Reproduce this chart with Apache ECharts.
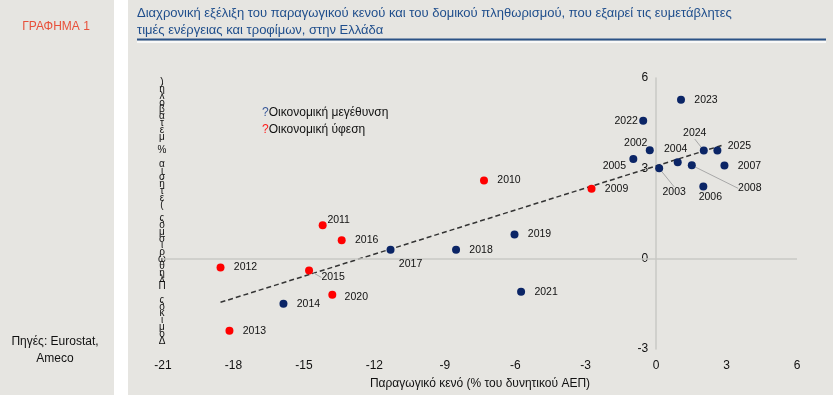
<!DOCTYPE html>
<html>
<head>
<meta charset="utf-8">
<script src="https://cdn.jsdelivr.net/npm/echarts@6/dist/echarts.min.js"></script>
<style>
html,body{margin:0;padding:0;background:#ffffff;}
#chart{width:833px;height:395px;}
</style>
</head>
<body>
<div id="chart"></div>
<script>
// ---- Data ----
const growthYears = ['2002','2003','2004','2005','2006','2007','2008','2014','2017','2018','2019','2021','2022','2023','2024','2025'];
const growthGap   = [-0.27, 0.13, 0.92, -0.97, 2.01, 2.91, 1.52, -15.87, -11.31, -8.52, -6.03, -5.75, -0.55, 1.06, 2.03, 2.61];
const growthInfl  = [3.60, 3.00, 3.20, 3.31, 2.40, 3.09, 3.10, -1.50, 0.30, 0.30, 0.80, -1.10, 4.58, 5.28, 3.59, 3.59];

const recessionYears = ['2009','2010','2011','2012','2013','2015','2016','2020'];
const recessionGap   = [-2.75, -7.33, -14.20, -18.55, -18.17, -14.78, -13.39, -13.79];
const recessionInfl  = [2.32, 2.60, 1.11, -0.29, -2.39, -0.39, 0.61, -1.20];

const trendGap  = [-18.55, 2.91];
const trendInfl = [-1.45, 3.79];

const xTicks = [-21, -18, -15, -12, -9, -6, -3, 0, 3, 6];
const yTicks = [-3, 0, 3, 6];

const titleText = 'Διαχρονική εξέλιξη του παραγωγικού κενού και του δομικού πληθωρισμού, που εξαιρεί τις ευμετάβλητες\nτιμές ενέργειας και τροφίμων, στην Ελλάδα';
const xAxisName = 'Παραγωγικό κενό (% του δυνητικού ΑΕΠ)';
const yAxisName = 'Δομικός Πληθωρισμός (ετήσια % μεταβολή)';
const legendGrowth = 'Οικονομική μεγέθυνση';
const legendRecession = 'Οικονομική ύφεση';

// ---- Label placement (style, not data) ----
const labelOffsets = {
  '2002': [-14, -7], '2003': [15, 24], '2004': [-2, -13], '2005': [-19, 7],
  '2006': [7, 11], '2008': [58, 23], '2022': [-17, 0], '2024': [-9, -17],
  '2025': [22, -4], '2011': [16, -5], '2017': [20, 14], '2015': [24, 7],
  '2020': [24, 2]
};
const leaderYears = ['2003', '2008', '2024', '2015'];

const FONT = '"Liberation Sans", Arial, sans-serif';
const PANEL = '#e6e5e1';
const GRID_LEFT = 163, GRID_RIGHT = 36;
const plotWidth = 833 - GRID_LEFT - GRID_RIGHT;
// shift of the y axis so it sits at x = 0 of the value scale
const yAxisShift = plotWidth * (0 - xTicks[0]) / (xTicks[xTicks.length - 1] - xTicks[0]);

function buildData(years, xs, ys) {
  return years.map((y, i) => {
    const item = { name: y, value: [xs[i], ys[i]] };
    if (leaderYears.includes(y)) item.labelLine = { show: true };
    return item;
  });
}
const allYears = [growthYears, recessionYears];

function layoutFn(p) {
  const year = allYears[p.seriesIndex][p.dataIndex];
  const off = labelOffsets[year] || [25, 0];
  const cx = p.rect.x + p.rect.width / 2;
  const cy = p.rect.y + p.rect.height / 2;
  return { x: cx + off[0], y: cy + off[1], align: 'center', verticalAlign: 'middle' };
}

const chart = echarts.init(document.getElementById('chart'), null, { renderer: 'canvas' });

const option = {
  backgroundColor: '#ffffff',
  animation: false,
  textStyle: { fontFamily: FONT },
  graphic: [
    { type: 'rect', silent: true, z: -10, shape: { x: 0, y: 0, width: 114, height: 395 }, style: { fill: PANEL } },
    { type: 'rect', silent: true, z: -10, shape: { x: 128, y: 0, width: 705, height: 395 }, style: { fill: PANEL } },
    { type: 'text', x: 56, y: 21, style: { text: 'ΓΡΑΦΗΜΑ 1', fill: '#e8503a', font: '12px ' + FONT, align: 'center' } },
    { type: 'text', x: 55, y: 333, style: { text: 'Πηγές: Eurostat,\nAmeco', fill: '#111', font: '12px ' + FONT, lineHeight: 17, align: 'center' } },
    { type: 'text', x: 137, y: 5, style: { text: titleText, fill: '#1f4e8c', font: '13px ' + FONT, lineHeight: 17 } },
    { type: 'line', silent: true, shape: { x1: 137, y1: 39.5, x2: 826, y2: 39.5 }, style: { stroke: '#2b5286', lineWidth: 2 } },
    { type: 'line', silent: true, shape: { x1: 137, y1: 42, x2: 826, y2: 42 }, style: { stroke: '#ffffff', lineWidth: 1.5 } },
    { type: 'text', x: 162, y: 79, style: { text: yAxisName.split('').reverse().join('\n'), fill: '#111', font: '10px ' + FONT, lineHeight: 6.8, align: 'center' } },
    { type: 'text', x: 262, y: 104, style: {
        text: '{b|?}' + legendGrowth + '\n{r|?}' + legendRecession,
        fill: '#111', font: '12px ' + FONT, lineHeight: 17,
        rich: { b: { fill: '#3b5a9a', font: '12px ' + FONT }, r: { fill: '#ff2020', font: '12px ' + FONT } }
    } }
  ],
  grid: { left: GRID_LEFT, right: GRID_RIGHT, top: 78, bottom: 46, containLabel: false },
  xAxis: {
    type: 'value',
    min: xTicks[0], max: xTicks[xTicks.length - 1], interval: 3,
    position: 'bottom',
    axisLine: { show: false, onZero: false },
    axisTick: { show: false },
    splitLine: { show: false },
    axisLabel: { color: '#111', fontSize: 12, margin: 11, fontFamily: FONT },
    name: xAxisName, nameLocation: 'middle', nameGap: 29,
    nameTextStyle: { color: '#111', fontSize: 12, fontFamily: FONT }
  },
  yAxis: {
    type: 'value',
    min: yTicks[0], max: yTicks[yTicks.length - 1], interval: 3,
    position: 'left',
    offset: -yAxisShift,
    axisLine: { show: true, onZero: false, lineStyle: { color: '#c9c8c4', width: 1.5 } },
    axisTick: { show: false },
    splitLine: { show: false },
    axisLabel: { color: '#111', fontSize: 12, margin: 8, fontFamily: FONT }
  },
  series: [
    {
      name: legendGrowth, type: 'scatter', symbolSize: 8, z: 5,
      itemStyle: { color: '#0b2566', opacity: 1 },
      data: buildData(growthYears, growthGap, growthInfl),
      label: { show: true, position: 'inside', formatter: '{b}', color: '#111', fontSize: 10.5, fontFamily: FONT },
      labelLine: { show: false, lineStyle: { color: '#a8a8a8', width: 1 } },
      labelLayout: layoutFn
    },
    {
      name: legendRecession, type: 'scatter', symbolSize: 8, z: 5,
      itemStyle: { color: '#ff0000', opacity: 1 },
      data: buildData(recessionYears, recessionGap, recessionInfl),
      label: { show: true, position: 'inside', formatter: '{b}', color: '#111', fontSize: 10.5, fontFamily: FONT },
      labelLine: { show: false, lineStyle: { color: '#a8a8a8', width: 1 } },
      labelLayout: layoutFn
    },
    {
      type: 'line', symbol: 'none', z: 3, silent: true,
      data: trendGap.map((g, i) => [g, trendInfl[i]]),
      lineStyle: { color: '#333333', width: 1.5, type: [5, 3] },
      markLine: {
        silent: true, symbol: 'none', label: { show: false },
        lineStyle: { color: '#c9c8c4', width: 1.5, type: 'solid' },
        data: [{ yAxis: 0 }]
      }
    }
  ]
};

chart.setOption(option);
</script>
</body>
</html>
